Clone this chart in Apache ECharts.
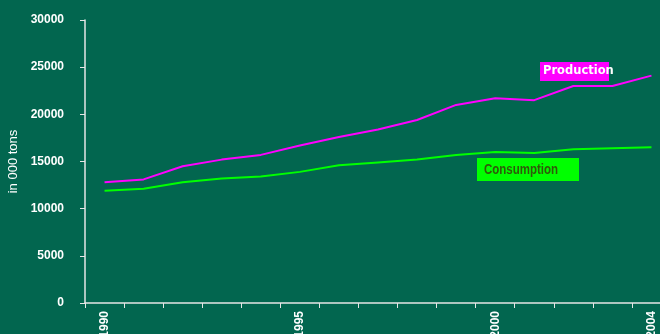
<!DOCTYPE html>
<html>
<head>
<meta charset="utf-8">
<script src="https://cdn.jsdelivr.net/npm/echarts@6/dist/echarts.min.js"></script>
<style>
html,body{margin:0;padding:0;background:#02664F;}
#c{width:660px;height:334px;}
</style>
</head>
<body>
<div id="c"></div>
<script>
const years = ['1990','1991','1992','1993','1994','1995','1996','1997','1998','1999','2000','2001','2002','2003','2004'];
const production = [12800,13100,14500,15200,15700,16700,17600,18400,19400,21000,21700,21500,23000,23000,24100];
const consumption = [11900,12100,12800,13200,13400,13900,14600,14900,15200,15700,16000,15900,16300,16400,16500];
const shownYears = ['1990','1995','2000','2004'];
const yAxisName = 'in 000 tons';
const productionName = 'Production';
const consumptionName = 'Consumption';

const sans = '"Liberation Sans", Arial, sans-serif';
const chart = echarts.init(document.getElementById('c'), null, {renderer: 'canvas'});
chart.setOption({
  backgroundColor: '#02664F',
  animation: false,
  grid: {left: 85, top: 20, width: 586, height: 283, containLabel: false, outerBoundsMode: 'none'},
  xAxis: {
    type: 'category',
    data: years,
    boundaryGap: true,
    axisLine: {show: true, lineStyle: {color: '#E6E6E6', width: 1.5}},
    axisTick: {show: true, interval: 0, length: 5, inside: false, lineStyle: {color: '#E6E6E6', width: 1}},
    axisLabel: {
      rotate: 90,
      margin: 8,
      color: '#FFFFFF',
      fontFamily: sans,
      fontWeight: 'bold',
      fontSize: 12,
      interval: function (i, v) { return shownYears.indexOf(v) >= 0; }
    },
    splitLine: {show: false}
  },
  yAxis: {
    type: 'value',
    min: 0,
    max: 30000,
    interval: 5000,
    name: yAxisName,
    nameLocation: 'middle',
    nameRotate: 90,
    nameGap: 58,
    nameTextStyle: {color: '#FFFFFF', fontFamily: sans, fontSize: 13},
    axisLine: {show: true, lineStyle: {color: '#E6E6E6', width: 1.5}},
    axisTick: {show: true, length: 5, lineStyle: {color: '#E6E6E6', width: 1}},
    axisLabel: {
      margin: 21, color: '#FFFFFF', fontFamily: sans, fontWeight: 'bold', fontSize: 12,
      formatter: function (v) { return String(v); }
    },
    splitLine: {show: false}
  },
  series: [
    {
      name: productionName,
      type: 'line',
      data: production,
      symbol: 'none',
      lineStyle: {color: '#FF00FF', width: 2},
      itemStyle: {color: '#FF00FF'}
    },
    {
      name: consumptionName,
      type: 'line',
      data: consumption,
      symbol: 'none',
      lineStyle: {color: '#00FF00', width: 2},
      itemStyle: {color: '#00FF00'}
    }
  ],
  graphic: [
    {type: 'rect', left: 540, top: 62, shape: {width: 69, height: 19}, style: {fill: '#FF00FF'}, z: 10},
    {type: 'text', left: 543, top: 65, style: {text: productionName, fill: '#FFFFFF', font: 'bold 11.5px "DejaVu Sans", sans-serif'}, z: 11},
    {type: 'rect', left: 477, top: 158, shape: {width: 102, height: 23}, style: {fill: '#00FF00'}, z: 10},
    {type: 'text', x: 484, y: 163, scaleY: 1.2, style: {text: consumptionName, fill: '#2F5A0A', font: 'bold 11.5px ' + sans}, z: 11}
  ]
});
</script>
</body>
</html>
